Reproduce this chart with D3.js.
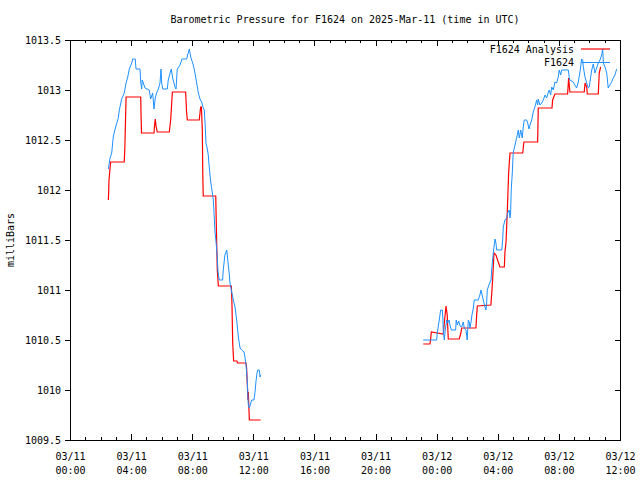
<!DOCTYPE html>
<html>
<head>
<meta charset="utf-8">
<script src="https://cdn.jsdelivr.net/npm/d3@7"></script>
<style>
html,body{margin:0;padding:0;background:#fff;}
text{font-family:"DejaVu Sans Mono","Liberation Mono",monospace;font-size:10px;fill:#000;}
</style>
</head>
<body>
<svg id="chart" width="640" height="480"></svg>
<script>
// ---- data (hours since 2025-03-11 00:00 UTC, pressure in mb); null marks a gap ----
const titleText = "Barometric Pressure for F1624 on 2025-Mar-11 (time in UTC)";
const yLabel = "milliBars";
const seriesNames = ["F1624 Analysis", "F1624"];

const xTickHours = [0,4,8,12,16,20,24,28,32,36];
const xTickDates = ["03/11","03/11","03/11","03/11","03/11","03/11","03/12","03/12","03/12","03/12"];
const xTickTimes = ["00:00","04:00","08:00","12:00","16:00","20:00","00:00","04:00","08:00","12:00"];
const yTicks = [1009.5,1010,1010.5,1011,1011.5,1012,1012.5,1013,1013.5];

const anaHours = [2.51,2.53,2.55,2.62,2.66,3.55,3.59,3.67,4.63,4.65,4.68,5.50,5.53,5.58,5.63,5.71,6.50,6.59,6.70,7.57,7.63,7.68,8.46,8.55,8.60,8.66,8.69,8.72,9.54,9.56,9.60,9.64,9.71,10.56,10.60,10.65,10.71,10.93,10.96,11.52,11.56,11.65,11.67,11.74,12.48,
  null,
  23.12,23.56,23.60,23.65,24.43,24.61,24.69,24.76,25.48,25.57,25.64,26.57,26.62,26.66,27.55,27.62,27.67,27.75,27.88,28.14,28.43,28.47,28.54,28.62,28.71,28.80,29.63,29.71,30.61,30.65,31.55,31.59,31.74,32.57,32.64,32.72,33.66,33.71,33.82,33.86,34.58,34.64,34.73];
const anaValues = [1011.90,1011.97,1012.09,1012.22,1012.28,1012.28,1012.42,1012.93,1012.93,1012.75,1012.57,1012.57,1012.64,1012.71,1012.64,1012.58,1012.58,1012.70,1012.98,1012.98,1012.78,1012.70,1012.70,1012.83,1012.83,1012.61,1012.17,1011.94,1011.94,1011.78,1011.48,1011.20,1011.04,1011.04,1010.87,1010.47,1010.29,1010.29,1010.27,1010.27,1010.22,1009.90,1009.98,1009.70,1009.70,
  null,
  1010.46,1010.46,1010.50,1010.58,1010.56,1010.84,1010.75,1010.51,1010.51,1010.56,1010.62,1010.62,1010.75,1010.84,1010.85,1011.00,1011.12,1011.37,1011.35,1011.23,1011.23,1011.38,1011.48,1011.77,1012.17,1012.37,1012.37,1012.48,1012.48,1012.82,1012.82,1012.90,1012.96,1012.96,1013.12,1012.98,1012.98,1013.07,1013.03,1012.96,1012.96,1013.17,1013.23];

const obsHours = [2.51,2.62,2.73,2.83,2.95,3.16,3.23,3.38,3.55,3.67,3.78,3.88,4.04,4.10,4.27,4.32,4.58,4.63,4.69,4.73,4.80,4.91,5.19,5.28,5.41,5.50,5.58,5.67,5.78,5.89,5.96,6.00,6.07,6.37,6.43,6.55,6.63,6.72,6.87,6.94,7.02,7.20,7.33,7.64,7.70,7.81,7.90,8.07,8.18,8.29,8.40,8.51,8.62,8.72,8.79,8.84,8.90,8.99,9.05,9.12,9.21,9.29,9.38,9.44,9.49,9.56,9.64,9.69,9.77,9.99,10.03,10.14,10.26,10.36,10.43,10.47,10.56,10.69,10.80,10.91,11.02,11.13,11.24,11.39,11.45,11.52,11.60,11.67,11.74,11.80,11.89,12.04,12.11,12.17,12.24,12.29,12.39,12.44,12.48,
  null,
  23.12,24.00,24.04,24.17,24.26,24.37,24.41,24.43,24.50,24.56,24.66,24.72,24.81,24.87,24.96,25.24,25.28,25.35,25.44,25.53,25.64,25.74,25.81,25.92,25.96,26.00,26.07,26.13,26.18,26.24,26.31,26.40,26.46,26.72,26.83,26.90,27.05,27.16,27.23,27.27,27.31,27.42,27.56,27.60,27.71,27.82,27.88,27.93,28.26,28.32,28.36,28.47,28.58,28.65,28.75,28.80,28.84,28.88,28.95,29.01,29.08,29.17,29.24,29.34,29.41,29.50,29.60,29.67,29.73,29.89,29.96,30.04,30.11,30.22,30.32,30.43,30.55,30.61,30.65,30.76,30.87,30.98,31.09,31.20,31.31,31.37,31.46,31.53,31.63,31.74,31.85,31.96,32.02,32.12,32.18,32.62,32.68,32.72,32.94,33.05,33.16,33.27,33.38,33.49,33.56,33.60,33.71,33.82,33.92,33.99,34.08,34.15,34.25,34.36,34.47,34.58,34.69,34.80,34.87,34.91,35.02,35.13,35.23,35.34,35.45,35.56,35.67,35.78];
const obsValues = [1012.21,1012.32,1012.37,1012.53,1012.61,1012.72,1012.80,1012.91,1012.97,1013.07,1013.13,1013.21,1013.27,1013.31,1013.31,1013.21,1013.21,1013.08,1013.01,1013.10,1013.07,1013.02,1013.00,1012.91,1012.97,1012.81,1012.92,1012.97,1013.01,1013.07,1013.21,1013.07,1013.01,1013.01,1013.10,1013.17,1013.21,1013.12,1013.03,1013.01,1013.21,1013.25,1013.31,1013.31,1013.35,1013.41,1013.33,1013.25,1013.17,1013.07,1012.97,1012.91,1012.88,1012.82,1012.80,1012.67,1012.47,1012.41,1012.35,1012.22,1012.08,1012.00,1011.90,1011.73,1011.58,1011.48,1011.33,1011.18,1011.10,1011.10,1011.20,1011.35,1011.40,1011.25,1011.15,1011.07,1011.00,1010.90,1010.83,1010.70,1010.53,1010.42,1010.40,1010.38,1010.33,1010.25,1010.10,1009.85,1009.82,1009.85,1009.90,1009.90,1009.98,1010.08,1010.17,1010.20,1010.20,1010.13,1010.15,
  null,
  1010.50,1010.50,1010.57,1010.70,1010.80,1010.80,1010.70,1010.60,1010.50,1010.60,1010.70,1010.67,1010.70,1010.65,1010.60,1010.60,1010.70,1010.65,1010.69,1010.64,1010.63,1010.68,1010.62,1010.60,1010.55,1010.50,1010.70,1010.68,1010.62,1010.67,1010.75,1010.82,1010.90,1010.90,1010.95,1011.00,1010.90,1010.83,1010.80,1010.87,1011.00,1011.05,1011.10,1011.20,1011.38,1011.51,1011.47,1011.40,1011.40,1011.50,1011.63,1011.70,1011.72,1011.77,1011.80,1011.72,1011.77,1012.00,1012.17,1012.37,1012.42,1012.48,1012.52,1012.60,1012.52,1012.60,1012.52,1012.63,1012.70,1012.70,1012.67,1012.61,1012.65,1012.70,1012.78,1012.83,1012.90,1012.85,1012.91,1012.85,1012.87,1012.90,1012.95,1012.92,1012.98,1013.00,1012.95,1013.03,1013.00,1013.08,1013.07,1013.13,1013.20,1013.15,1013.20,1013.20,1013.12,1013.10,1013.08,1013.05,1013.02,1013.08,1013.18,1013.31,1013.30,1013.23,1013.13,1013.07,1013.02,1013.03,1013.13,1013.20,1013.26,1013.17,1013.22,1013.27,1013.30,1013.35,1013.41,1013.27,1013.23,1013.17,1013.02,1013.05,1013.08,1013.12,1013.15,1013.21];

const colors = ["#ff0000", "#1e90ff"];

// ---- chart ----
const M = {left:70, right:620, top:40, bottom:440};
const svg = d3.select("#chart");
const x = d3.scaleLinear().domain([0,36]).range([M.left, M.right]);
const y = d3.scaleLinear().domain([1009.5,1013.5]).range([M.bottom, M.top]);

const minorHours = d3.range(0,37).filter(h => h % 4 !== 0);

// minor ticks (bottom & top, inward)
svg.append("g").attr("transform",`translate(0,${M.bottom})`)
  .call(d3.axisBottom(x).tickValues(minorHours).tickSize(-3).tickFormat(""));
svg.append("g").attr("transform",`translate(0,${M.top})`)
  .call(d3.axisTop(x).tickValues(minorHours).tickSize(-3).tickFormat(""));

// major x ticks
const xb = svg.append("g").attr("transform",`translate(0,${M.bottom})`)
  .call(d3.axisBottom(x).tickValues(xTickHours).tickSize(-6).tickPadding(10).tickFormat(""));
xb.selectAll(".tick").each(function(d,i){
  const t = d3.select(this).append("text").attr("text-anchor","middle").attr("fill","#000");
  t.append("tspan").attr("x",0).attr("y",20).text(xTickDates[i]);
  t.append("tspan").attr("x",0).attr("y",34).text(xTickTimes[i]);
});
svg.append("g").attr("transform",`translate(0,${M.top})`)
  .call(d3.axisTop(x).tickValues(xTickHours).tickSize(-6).tickFormat(""));

// y ticks
svg.append("g").attr("transform",`translate(${M.left},0)`)
  .call(d3.axisLeft(y).tickValues(yTicks).tickSize(5).tickPadding(4).tickFormat(d => String(d)));
svg.append("g").attr("transform",`translate(${M.right},0)`)
  .call(d3.axisRight(y).tickValues(yTicks).tickSize(-5).tickFormat(""));

svg.selectAll(".domain").remove();
svg.selectAll(".tick line").attr("stroke","#000").attr("shape-rendering","crispEdges");
svg.selectAll(".tick text").attr("font-family",null).attr("font-size",null).style("fill","#000");

// frame
svg.append("rect").attr("x",M.left+0.5).attr("y",M.top+0.5)
  .attr("width",M.right-M.left).attr("height",M.bottom-M.top)
  .attr("fill","none").attr("stroke","#000").attr("shape-rendering","crispEdges");

// lines
function pts(hs, vs){ return hs.map((h,i)=>({h, v: vs[i]})); }
const line = d3.line().defined(d => d.h !== null && d.v !== null).x(d => x(d.h)).y(d => y(d.v));
svg.append("path").datum(pts(anaHours, anaValues)).attr("d", line)
  .attr("fill","none").attr("stroke",colors[0]).attr("stroke-width",1.2);
svg.append("path").datum(pts(obsHours, obsValues)).attr("d", line)
  .attr("fill","none").attr("stroke",colors[1]).attr("stroke-width",1);

// title & axis label
svg.append("text").attr("x",(M.left+M.right)/2).attr("y",23).attr("text-anchor","middle").text(titleText);
svg.append("text").attr("transform","translate(14,240) rotate(-90)").attr("text-anchor","middle").text(yLabel);

// legend
seriesNames.forEach((name,i)=>{
  const ly = 49 + i*13.5;
  svg.append("text").attr("x",574).attr("y",ly).attr("dy","0.35em").attr("text-anchor","end").text(name);
  svg.append("line").attr("x1",581).attr("x2",610).attr("y1",ly).attr("y2",ly)
    .attr("stroke",colors[i]).attr("stroke-width", i===0?1.2:1);
});
</script>
</body>
</html>
